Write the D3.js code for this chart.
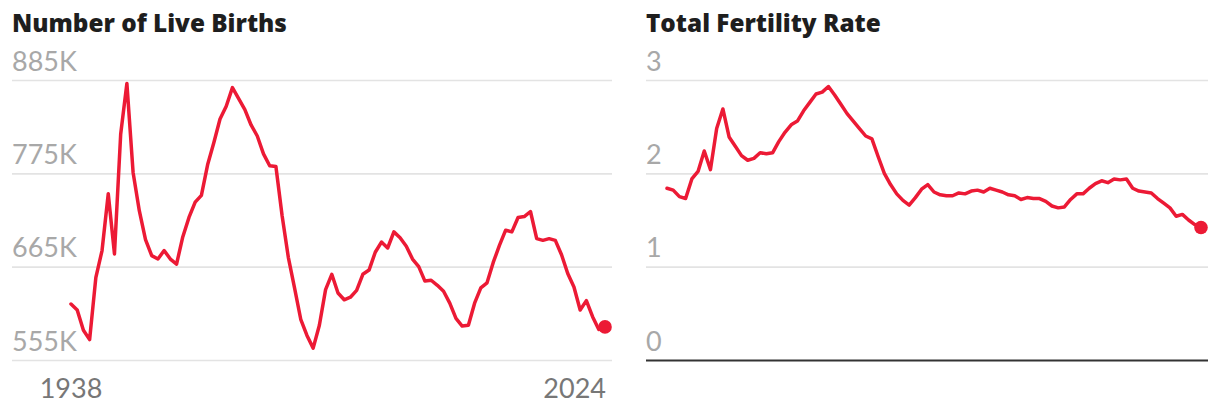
<!DOCTYPE html>
<html>
<head>
<meta charset="utf-8">
<script src="https://cdn.jsdelivr.net/npm/d3@7"></script>
<style>
  html, body { margin: 0; padding: 0; background: #fff; }
  svg { display: block; }
</style>
</head>
<body>
<svg id="chart" width="1220" height="412"></svg>
<script>
// ---- data ----
const years = d3.range(1938, 2025);
const births = [621, 614, 590, 579, 652, 684, 751, 680, 821, 881,
  776, 731, 697, 678, 674, 684, 674, 668, 700, 723,
  741, 749, 785, 811, 839, 854, 876, 863, 850, 832,
  819, 798, 784, 783, 725, 676, 640, 603, 584, 569,
  596, 638, 656, 634, 626, 629, 637, 656, 661, 682,
  694, 687, 706, 699, 689, 674, 665, 648, 649, 643,
  636, 622, 604, 595, 596, 622, 640, 646, 670, 690,
  708, 706, 723, 724, 730, 698, 696, 698, 696, 679,
  657, 641, 614, 625, 606, 591, 594];
const tfr = [1.84, 1.82, 1.75, 1.73, 1.94, 2.02, 2.24, 2.04, 2.48, 2.69,
  2.39, 2.29, 2.19, 2.14, 2.16, 2.22, 2.21, 2.22, 2.34, 2.44,
  2.52, 2.56, 2.67, 2.76, 2.85, 2.87, 2.93, 2.84, 2.74, 2.64,
  2.56, 2.48, 2.40, 2.37, 2.18, 2.00, 1.88, 1.78, 1.71, 1.66,
  1.74, 1.83, 1.88, 1.80, 1.77, 1.76, 1.76, 1.79, 1.78, 1.81,
  1.82, 1.80, 1.84, 1.82, 1.80, 1.77, 1.76, 1.72, 1.74, 1.73,
  1.73, 1.70, 1.65, 1.63, 1.64, 1.72, 1.78, 1.78, 1.84, 1.89,
  1.92, 1.90, 1.94, 1.93, 1.94, 1.84, 1.81, 1.80, 1.79, 1.73,
  1.68, 1.63, 1.54, 1.56, 1.50, 1.45, 1.42];
const birthTicks = [555, 665, 775, 885];
const birthTickLabels = ["555K", "665K", "775K", "885K"];
const tfrTicks = [0, 1, 2, 3];
const tfrTickLabels = ["0", "1", "2", "3"];
const xLabels = ["1938", "2024"];
const titles = ["Number of Live Births", "Total Fertility Rate"];

// ---- styles ----
const RED = "#ec1a35";
const FONT = "Lato, 'Noto Sans', sans-serif";
const TITLE_FONT = "'Open Sans', 'Noto Sans', sans-serif";
const svg = d3.select("#chart");

function panel(opts) {
  const g = svg.append("g");
  const x = d3.scaleLinear().domain([years[0], years[years.length - 1]]).range(opts.xRange);
  const y = d3.scaleLinear().domain(opts.yDomain).range([360, 80]);

  // title
  g.append("text")
    .attr("x", opts.left)
    .attr("y", 32)
    .attr("font-family", TITLE_FONT)
    .attr("font-weight", 800)
    .attr("font-size", 24.3)
    .attr("fill", "#1e1e1e")
    .text(opts.title);

  // y axis via d3.axisRight with gridlines
  const axis = d3.axisRight(y)
    .tickValues(opts.ticks)
    .tickSize(opts.right - opts.left)
    .tickFormat((d, i) => opts.tickLabels[i]);
  const ag = g.append("g").attr("transform", `translate(${opts.left},0)`).call(axis);
  ag.select(".domain").remove();
  ag.selectAll(".tick line")
    .attr("stroke", (d) => (opts.zeroDark && d === 0) ? "#333" : "#e3e3e3")
    .attr("stroke-width", (d) => (opts.zeroDark && d === 0) ? 2 : 1.6);
  ag.selectAll(".tick text")
    .attr("x", 0)
    .attr("dy", 0)
    .attr("y", -10)
    .attr("text-anchor", "start")
    .attr("font-family", FONT)
    .attr("font-size", 27)
    .attr("fill", "#a8a8a8");

  // line
  const line = d3.line()
    .x((d, i) => x(years[i]))
    .y((d) => y(d))
    .curve(d3.curveLinear);
  g.append("path")
    .datum(opts.values)
    .attr("d", line)
    .attr("fill", "none")
    .attr("stroke", RED)
    .attr("stroke-width", 3.5)
    .attr("stroke-linejoin", "round")
    .attr("stroke-linecap", "round");

  const last = opts.values.length - 1;
  g.append("circle")
    .attr("cx", x(years[last]))
    .attr("cy", y(opts.values[last]))
    .attr("r", 6.8)
    .attr("fill", RED);

  if (opts.showX) {
    g.append("text")
      .attr("x", x(years[0]))
      .attr("y", 398)
      .attr("text-anchor", "middle")
      .attr("font-family", FONT)
      .attr("font-size", 27)
      .attr("fill", "#777")
      .text(xLabels[0]);
    g.append("text")
      .attr("x", x(years[last]) + 1)
      .attr("y", 398)
      .attr("text-anchor", "end")
      .attr("font-family", FONT)
      .attr("font-size", 27)
      .attr("fill", "#777")
      .text(xLabels[1]);
  }
}

panel({
  title: titles[0], left: 12, right: 612, xRange: [71, 605],
  yDomain: [555, 885], ticks: birthTicks, tickLabels: birthTickLabels,
  values: births, showX: true, zeroDark: false
});
panel({
  title: titles[1], left: 646, right: 1208, xRange: [667, 1201],
  yDomain: [0, 3], ticks: tfrTicks, tickLabels: tfrTickLabels,
  values: tfr, showX: false, zeroDark: true
});
</script>
</body>
</html>
